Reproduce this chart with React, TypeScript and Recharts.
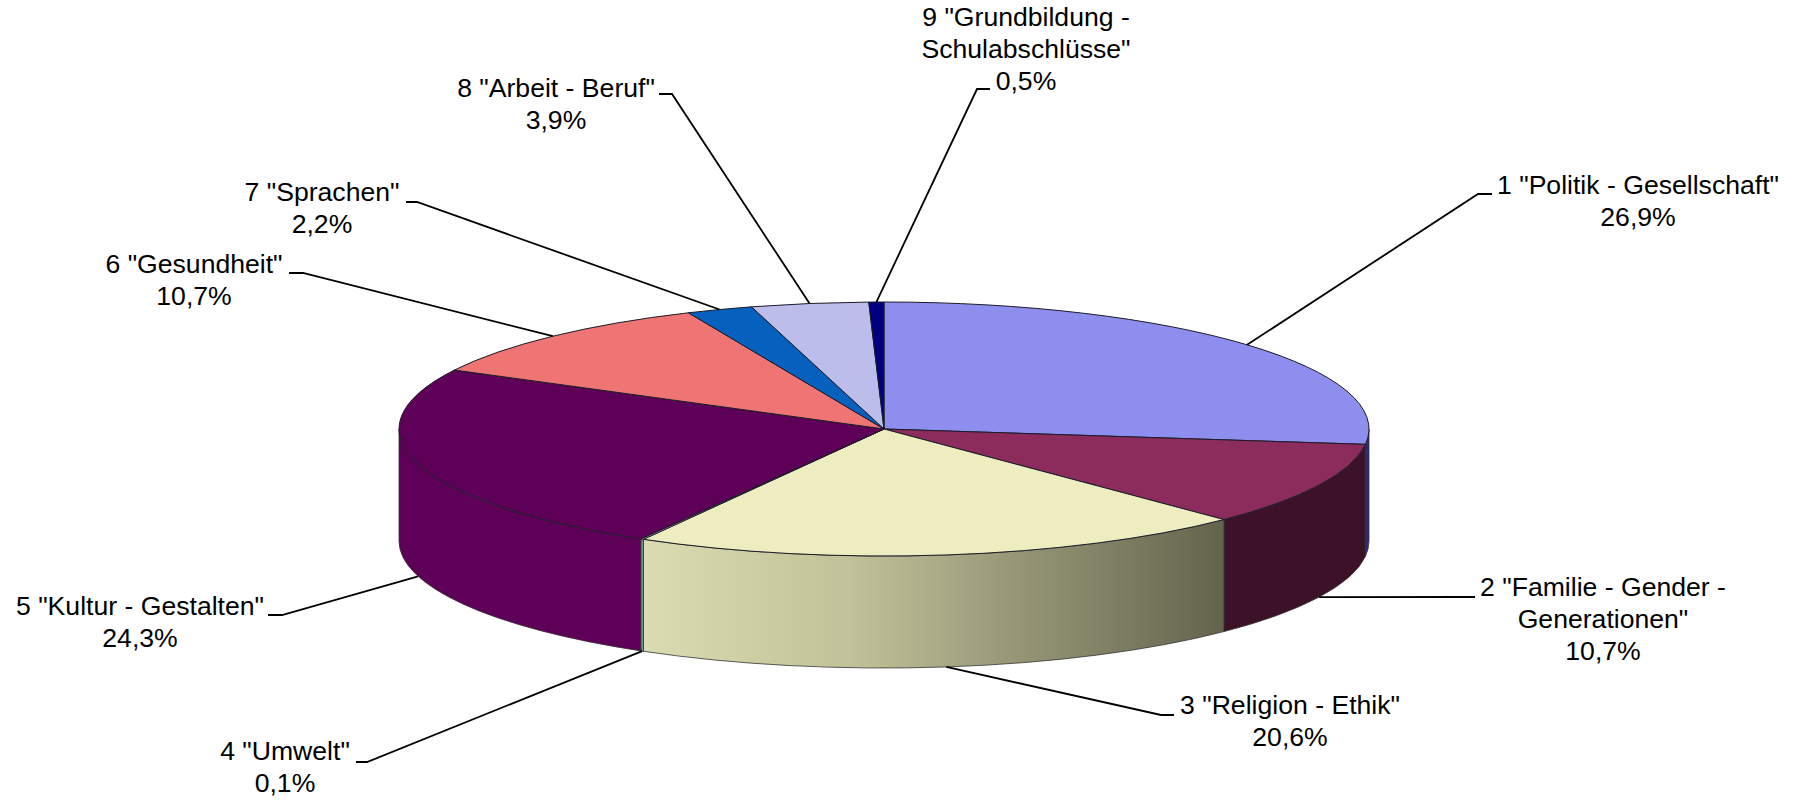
import { PieChart, Pie, Cell } from 'recharts';

const categoryLines = [
  ['1 "Politik - Gesellschaft"'],
  ['2 "Familie - Gender -', 'Generationen"'],
  ['3 "Religion - Ethik"'],
  ['4 "Umwelt"'],
  ['5 "Kultur - Gestalten"'],
  ['6 "Gesundheit"'],
  ['7 "Sprachen"'],
  ['8 "Arbeit - Beruf"'],
  ['9 "Grundbildung -', 'Schulabschlüsse"'],
];
const shares = [26.9, 10.7, 20.6, 0.1, 24.3, 10.7, 2.2, 3.9, 0.5];

const topColors = ['#8e8eef', '#8b2c5c', '#ededbf', '#a8d0cc', '#5e0058', '#ef7575', '#0560be', '#bdbdec', '#000080'];
const wallColors = ['#2c2c70', '#3d1228', 'url(#wallReligion)', '#6f9c94', '#5e0058', '#ef7575', '#0560be', '#bdbdec', '#000080'];

// label block centre x, first baseline y
const labelX = [1638, 1603, 1290, 285, 140, 194, 322, 556, 1026];
const labelY = [194, 596, 714, 760, 615, 273, 201, 97, 26];
// leader knee and end, next to the label
const kneeX = [1478, 1464, 1161, 367, 282, 303, 417, 672, 977];
const endX = [1492, 1475, 1174, 356, 268, 289, 406, 659, 990];
const kneeY = [194, 597, 715, 762, 615, 273, 202, 94, 89];

const CX = 884;
const CY = 429;
const RX = 485;
const RY = 127;
const DEPTH = 112;
const RAD = Math.PI / 180;

const ex = (a: number) => CX + RX * Math.cos(a * RAD);
const ey = (a: number, drop = 0) => CY - RY * Math.sin(a * RAD) + drop;

const pieData = shares.map((value, i) => ({ name: categoryLines[i].join(' '), value }));

function Slice3D(props: any) {
  const { startAngle, endAngle, index } = props;
  const large = Math.abs(startAngle - endAngle) > 180 ? 1 : 0;
  const top = `M${CX},${CY} L${ex(startAngle)},${ey(startAngle)} A${RX},${RY} 0 ${large} 1 ${ex(endAngle)},${ey(endAngle)} Z`;
  // only the part of the rim on the front half has a visible wall
  const hi = Math.min(startAngle, 0);
  const lo = Math.max(endAngle, -180);
  const wall =
    lo < hi
      ? `M${ex(hi)},${ey(hi)} A${RX},${RY} 0 0 1 ${ex(lo)},${ey(lo)} L${ex(lo)},${ey(lo, DEPTH)} A${RX},${RY} 0 0 0 ${ex(hi)},${ey(hi, DEPTH)} Z`
      : null;
  return (
    <g>
      {wall && <path d={wall} fill={wallColors[index]} stroke="#333" strokeWidth={0.8} />}
      <path d={top} fill={topColors[index]} stroke="#1c1c28" strokeWidth={1} strokeLinejoin="round" />
    </g>
  );
}

function LeaderLabel(props: any) {
  const { midAngle, index } = props;
  const sx = ex(midAngle);
  const front = Math.sin(midAngle * RAD) < 0;
  const sy = ey(midAngle, front ? DEPTH : 0);
  const lines = [...categoryLines[index], shares[index].toFixed(1).replace('.', ',') + '%'];
  return (
    <g>
      <polyline
        points={`${sx},${sy} ${kneeX[index]},${kneeY[index]} ${endX[index]},${kneeY[index]}`}
        fill="none"
        stroke="#000"
        strokeWidth={1.8}
      />
      <text
        textAnchor="middle"
        fontFamily="Liberation Sans, Arial, sans-serif"
        fontSize={26.6}
        fill="#000"
      >
        {lines.map((line, i) => (
          <tspan key={i} x={labelX[index]} y={labelY[index] + i * 32}>
            {line}
          </tspan>
        ))}
      </text>
    </g>
  );
}

export default function App() {
  return (
    <div style={{ position: 'absolute', left: 0, top: 0, width: 1793, height: 800, background: '#fff' }}>
      <PieChart width={1793} height={800} margin={{ top: 0, right: 0, bottom: 0, left: 0 }}>
        <defs>
          <linearGradient id="wallReligion" x1="0" y1="0" x2="1" y2="0">
            <stop offset="0" stopColor="#dcdcb2" />
            <stop offset="0.35" stopColor="#c2c29a" />
            <stop offset="0.7" stopColor="#8e8e70" />
            <stop offset="1" stopColor="#64644e" />
          </linearGradient>
        </defs>
        <Pie
          data={pieData}
          dataKey="value"
          nameKey="name"
          cx={CX}
          cy={CY}
          innerRadius={0}
          outerRadius={RX}
          startAngle={90}
          endAngle={-270}
          stroke="none"
          shape={Slice3D}
          label={LeaderLabel}
          labelLine={false}
          isAnimationActive={false}
        >
          {shares.map((_, i) => (
            <Cell key={i} fill={topColors[i]} />
          ))}
        </Pie>
      </PieChart>
    </div>
  );
}
